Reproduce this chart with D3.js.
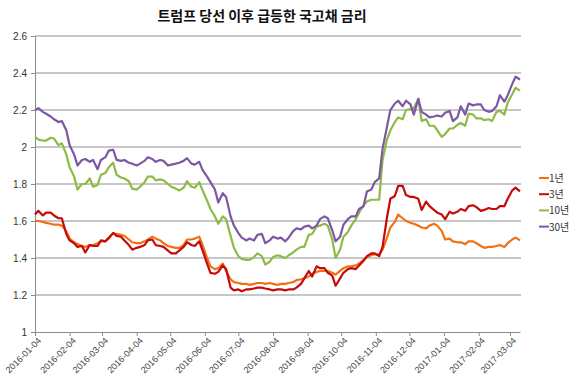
<!DOCTYPE html>
<html>
<head>
<meta charset="utf-8">
<script src="https://cdn.jsdelivr.net/npm/d3@7/dist/d3.min.js"></script>
<style>
  body { margin: 0; background: #fff; }
  text { font-family: "Liberation Sans", Arial, sans-serif; }
</style>
</head>
<body>
<svg id="chart" width="578" height="378"></svg>
<script>
// x: twice a week (Mon / Thu) from start date
var startDate = "2016-01-04";
var tickDates = ["2016-01-04", "2016-02-04", "2016-03-04", "2016-04-04", "2016-05-04", "2016-06-04",
    "2016-07-04", "2016-08-04", "2016-09-04", "2016-10-04", "2016-11-04", "2016-12-04",
    "2017-01-04", "2017-02-04", "2017-03-04"];
var yTicks = [1, 1.2, 1.4, 1.6, 1.8, 2, 2.2, 2.4, 2.6];

var seriesNames = ["1년", "3년", "10년", "30년"];
var seriesColors = ["#f27014", "#c40a0a", "#8dbb45", "#7b58a6"];

var rate1y = [1.60,1.60,1.595,1.59,1.585,1.58,1.58,1.575,1.545,1.505,
    1.485,1.475,1.465,1.46,1.47,1.47,1.48,1.49,1.49,1.505,
    1.535,1.53,1.525,1.52,1.50,1.485,1.48,1.48,1.49,1.50,
    1.515,1.505,1.495,1.48,1.465,1.46,1.455,1.455,1.47,1.50,
    1.50,1.505,1.515,1.47,1.40,1.355,1.34,1.345,1.37,1.33,
    1.285,1.27,1.265,1.26,1.26,1.255,1.26,1.265,1.265,1.26,
    1.265,1.26,1.255,1.26,1.26,1.265,1.27,1.28,1.285,1.29,
    1.30,1.315,1.325,1.33,1.33,1.33,1.32,1.31,1.33,1.345,
    1.355,1.355,1.36,1.37,1.39,1.405,1.415,1.42,1.42,1.445,
    1.51,1.565,1.595,1.635,1.615,1.60,1.59,1.585,1.575,1.565,
    1.56,1.575,1.585,1.575,1.545,1.50,1.505,1.49,1.485,1.485,
    1.475,1.49,1.49,1.48,1.465,1.455,1.46,1.46,1.465,1.47,
    1.46,1.48,1.50,1.51,1.495];

var rate3y = [1.635,1.655,1.63,1.645,1.645,1.63,1.615,1.615,1.53,1.495,
    1.48,1.46,1.465,1.43,1.47,1.465,1.465,1.495,1.49,1.51,
    1.535,1.52,1.515,1.495,1.47,1.445,1.455,1.46,1.47,1.495,
    1.50,1.47,1.465,1.46,1.44,1.425,1.425,1.44,1.46,1.485,
    1.47,1.465,1.49,1.44,1.37,1.32,1.315,1.325,1.36,1.34,
    1.24,1.225,1.23,1.22,1.23,1.23,1.235,1.24,1.24,1.235,
    1.23,1.225,1.23,1.23,1.225,1.23,1.23,1.24,1.26,1.29,
    1.33,1.30,1.355,1.345,1.345,1.32,1.305,1.25,1.29,1.32,
    1.34,1.345,1.34,1.36,1.385,1.41,1.425,1.425,1.41,1.46,
    1.62,1.72,1.735,1.79,1.79,1.74,1.73,1.73,1.72,1.66,
    1.705,1.68,1.66,1.645,1.635,1.61,1.65,1.64,1.65,1.665,
    1.655,1.68,1.685,1.675,1.655,1.66,1.67,1.665,1.665,1.68,
    1.68,1.72,1.765,1.78,1.76];

var rate10y = [2.055,2.04,2.035,2.035,2.05,2.045,2.01,2.02,1.96,1.89,
    1.84,1.77,1.80,1.80,1.83,1.785,1.795,1.85,1.86,1.89,
    1.915,1.85,1.835,1.83,1.815,1.775,1.77,1.785,1.81,1.84,
    1.84,1.82,1.825,1.82,1.80,1.785,1.775,1.765,1.78,1.815,
    1.785,1.78,1.81,1.765,1.71,1.665,1.625,1.585,1.625,1.61,
    1.52,1.455,1.41,1.395,1.39,1.39,1.405,1.425,1.41,1.365,
    1.38,1.405,1.415,1.41,1.40,1.415,1.43,1.445,1.46,1.46,
    1.525,1.53,1.57,1.575,1.585,1.575,1.50,1.40,1.445,1.515,
    1.54,1.575,1.61,1.645,1.685,1.705,1.715,1.715,1.715,1.93,
    2.04,2.09,2.135,2.16,2.15,2.20,2.205,2.21,2.26,2.14,
    2.15,2.115,2.115,2.09,2.055,2.07,2.10,2.10,2.12,2.13,
    2.115,2.18,2.175,2.155,2.155,2.145,2.15,2.14,2.19,2.195,
    2.175,2.24,2.285,2.32,2.305];

var rate30y = [2.20,2.21,2.19,2.18,2.165,2.15,2.135,2.14,2.09,2.01,
    1.96,1.90,1.93,1.935,1.92,1.93,1.88,1.93,1.945,1.98,
    1.985,1.93,1.925,1.93,1.915,1.91,1.90,1.91,1.925,1.945,
    1.935,1.92,1.93,1.925,1.90,1.905,1.91,1.915,1.925,1.94,
    1.91,1.905,1.92,1.875,1.84,1.81,1.77,1.70,1.75,1.73,
    1.625,1.575,1.535,1.51,1.495,1.505,1.495,1.525,1.53,1.48,
    1.495,1.515,1.505,1.51,1.49,1.51,1.545,1.56,1.555,1.57,
    1.575,1.56,1.575,1.61,1.625,1.615,1.55,1.49,1.515,1.58,
    1.61,1.625,1.625,1.665,1.68,1.76,1.77,1.81,1.83,1.99,
    2.11,2.20,2.235,2.25,2.22,2.25,2.23,2.175,2.26,2.19,
    2.175,2.16,2.165,2.17,2.165,2.185,2.195,2.14,2.16,2.22,
    2.175,2.235,2.225,2.23,2.23,2.20,2.19,2.195,2.22,2.28,
    2.245,2.28,2.34,2.38,2.365];

var allSeries = [rate1y, rate3y, rate10y, rate30y];

var parse = d3.timeParse("%Y-%m-%d");
var fmt = d3.timeFormat("%Y-%m-%d");
var start = parse(startDate);
var dates = rate1y.map(function (d, i) {
    return d3.timeDay.offset(start, Math.floor(i / 2) * 7 + (i % 2) * 3);
});

var svg = d3.select("#chart");
var plotLeft = 35, plotRight = 520, plotTop = 36, plotBottom = 332;

var x = d3.scaleTime()
    .domain([dates[0], dates[dates.length - 1]])
    .range([plotLeft, plotRight]);
var y = d3.scaleLinear()
    .domain([1, 2.6])
    .range([plotBottom, plotTop]);

// title
svg.append("text")
    .attr("x", 262)
    .attr("y", 21)
    .attr("text-anchor", "middle")
    .style("font-family", "'Noto Sans CJK KR', sans-serif")
    .style("font-size", "14px")
    .style("font-weight", "bold")
    .style("fill", "#111")
    .text("트럼프 당선 이후 급등한 국고채 금리");

// gridlines
svg.append("g")
    .selectAll("line")
    .data(yTicks.filter(function (d) { return d > 1; }))
    .enter().append("line")
    .attr("x1", plotLeft)
    .attr("x2", plotRight + 1)
    .attr("y1", function (d) { return y(d); })
    .attr("y2", function (d) { return y(d); })
    .attr("stroke", "#b4b4b4")
    .attr("stroke-width", 1.6);

// y axis
var yAxis = svg.append("g")
    .attr("transform", "translate(" + plotLeft + ",0)")
    .call(d3.axisLeft(y).tickValues(yTicks).tickSize(4).tickSizeOuter(0).tickPadding(4)
        .tickFormat(function (d) { return d3.format("")(+d.toFixed(1)); }));
yAxis.select(".domain").attr("stroke", "#8c8c8c");
yAxis.selectAll(".tick line").attr("stroke", "#8c8c8c");
yAxis.selectAll("text")
    .style("font-size", "10px")
    .style("fill", "#333");

// x axis
var xAxis = svg.append("g")
    .attr("transform", "translate(0," + plotBottom + ")")
    .call(d3.axisBottom(x).tickValues(tickDates.map(parse)).tickSize(4).tickSizeOuter(0).tickFormat(fmt));
xAxis.select(".domain").attr("stroke", "#8c8c8c");
xAxis.selectAll(".tick line").attr("stroke", "#8c8c8c");
xAxis.selectAll("text")
    .style("font-size", "9px")
    .style("fill", "#444")
    .attr("text-anchor", "end")
    .attr("dx", "-2")
    .attr("dy", "4")
    .attr("transform", "rotate(-45)");

// lines
var line = d3.line()
    .x(function (d, i) { return x(dates[i]); })
    .y(function (d) { return y(d); });

svg.append("g")
    .selectAll("path")
    .data(allSeries)
    .enter().append("path")
    .attr("d", line)
    .attr("fill", "none")
    .attr("stroke", function (d, i) { return seriesColors[i]; })
    .attr("stroke-width", 2.2)
    .attr("stroke-linejoin", "round");

// legend
var legend = svg.append("g")
    .selectAll("g")
    .data(seriesNames)
    .enter().append("g")
    .attr("transform", function (d, i) { return "translate(539," + (178 + i * 16.2) + ")"; });
legend.append("line")
    .attr("x1", 0).attr("x2", 10)
    .attr("stroke", function (d, i) { return seriesColors[i]; })
    .attr("stroke-width", 2);
legend.append("text")
    .attr("x", 10)
    .attr("y", 4)
    .style("font-family", "'Noto Sans CJK KR', sans-serif")
    .style("font-size", "10px")
    .style("fill", "#333")
    .text(function (d) { return d; });
</script>
</body>
</html>
